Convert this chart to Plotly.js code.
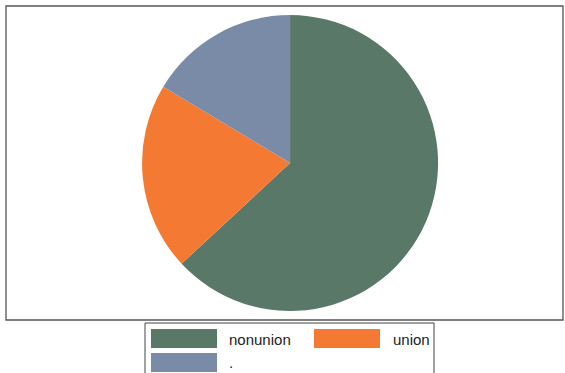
<!DOCTYPE html>
<html>
<head>
<meta charset="utf-8">
<script src="https://cdn.plot.ly/plotly-3.0.1.min.js"></script>
<style>html,body{margin:0;padding:0;background:#fff;}#chart{width:565px;height:373px;}</style>
</head>
<body>
<div id="chart"></div>
<script>
const labels = ['nonunion', 'union', '.'];
const counts = [1417, 461, 368];
const colors = ['#5a7867', '#f47a33', '#7a8ba7'];

// layout geometry (pixels)
const W = 565, H = 373;
const M = {l: 6, r: 2, t: 6, b: 53};
const pw = W - M.l - M.r, ph = H - M.t - M.b;
const px = x => (x - M.l) / pw;
const py = y => (H - M.b - y) / ph;

const shapes = [
  {type: 'rect', xref: 'paper', yref: 'paper', x0: 0, x1: 1, y0: 0, y1: 1,
   line: {color: '#555', width: 1.3}, fillcolor: 'rgba(0,0,0,0)'},
  {type: 'rect', xref: 'paper', yref: 'paper', x0: px(145), x1: px(434), y0: py(323), y1: py(380),
   line: {color: '#444', width: 1}, fillcolor: 'rgba(0,0,0,0)'}
];
const legendPos = [
  {sx: 151, sy: 329, tx: 227, ty: 339},
  {sx: 314, sy: 329, tx: 391, ty: 339},
  {sx: 151, sy: 353, tx: 227, ty: 362}
];
const annotations = [];
labels.forEach((lab, i) => {
  const p = legendPos[i];
  shapes.push({type: 'rect', xref: 'paper', yref: 'paper',
    x0: px(p.sx), x1: px(p.sx + 66), y0: py(p.sy), y1: py(p.sy + 19),
    line: {width: 0}, fillcolor: colors[i]});
  annotations.push({xref: 'paper', yref: 'paper', x: px(p.tx), y: py(p.ty),
    xanchor: 'left', yanchor: 'middle', showarrow: false, text: lab,
    font: {family: 'Liberation Sans, Arial, sans-serif', size: 15, color: '#222'}});
});

const trace = {
  type: 'pie', labels: labels, values: counts, sort: false,
  direction: 'clockwise', rotation: 0,
  marker: {colors: colors, line: {width: 0}},
  textinfo: 'none', hoverinfo: 'label+value',
  domain: {x: [0.02, 1], y: [py(311), py(15)]}
};

Plotly.newPlot('chart', [trace], {
  width: W, height: H, margin: M, showlegend: false,
  paper_bgcolor: '#fff', plot_bgcolor: '#fff',
  shapes: shapes, annotations: annotations
}, {displayModeBar: false, staticPlot: true});
</script>
</body>
</html>
